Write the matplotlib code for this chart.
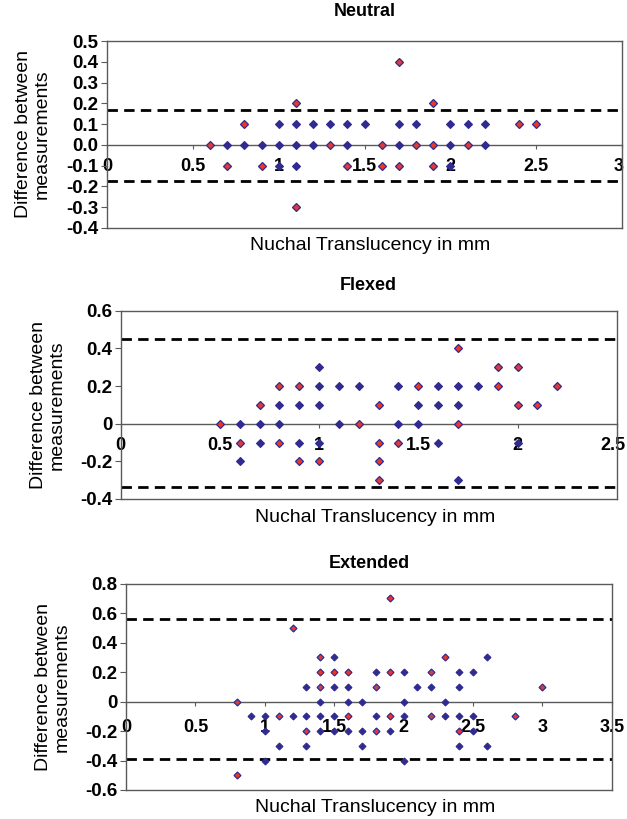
import matplotlib
matplotlib.use("Agg")
import matplotlib.pyplot as plt
from matplotlib.transforms import ScaledTranslation

plt.rcParams['font.family'] = ['Liberation Sans', 'DejaVu Sans']
plt.rcParams['lines.scale_dashes'] = False

# ---------------- data ----------------
titles = ["Neutral", "Flexed", "Extended"]
xlabel = "Nuchal Translucency in mm"
ylabel = "Difference between\nmeasurements"

# Neutral
neu_red_x = [1.1, 0.8, 0.6, 1.3, 0.7, 0.9, 1.4, 1.1, 1.7, 1.9, 2.4, 2.5, 1.6, 1.8, 1.9, 2.1, 1.6, 1.7, 1.9]
neu_red_y = [0.2, 0.1, 0.0, 0.0, -0.1, -0.1, -0.1, -0.3, 0.4, 0.2, 0.1, 0.1, 0.0, 0.0, 0.0, 0.0, -0.1, -0.1, -0.1]
neu_blue_x = [1.0, 1.1, 1.2, 1.3, 1.4, 1.5, 1.7, 1.8, 2.0, 2.1, 2.2,
              0.7, 0.8, 0.9, 1.0, 1.1, 1.2, 1.4, 1.7, 2.0, 2.2,
              1.0, 1.1, 2.0]
neu_blue_y = [0.1] * 11 + [0.0] * 10 + [-0.1] * 3
neu_limits = [0.17, -0.175]
neu_xticks = [0, 0.5, 1, 1.5, 2, 2.5, 3]
neu_xticklabels = ["0", "0.5", "1", "1.5", "2", "2.5", "3"]
neu_yticks = [0.5, 0.4, 0.3, 0.2, 0.1, 0.0, -0.1, -0.2, -0.3, -0.4]
neu_yticklabels = ["0.5", "0.4", "0.3", "0.2", "0.1", "0.0", "-0.1", "-0.2", "-0.3", "-0.4"]

# Flexed
flx_red_x = [0.8, 0.9, 0.7, 0.5, 1.2, 0.6, 0.8, 0.9, 1.0,
             1.7, 1.9, 2.0, 1.5, 1.9, 2.2, 1.3, 2.0, 2.1, 1.7, 1.3, 1.4, 1.3, 1.3]
flx_red_y = [0.2, 0.2, 0.1, 0.0, 0.0, -0.1, -0.1, -0.2, -0.2,
             0.4, 0.3, 0.3, 0.2, 0.2, 0.2, 0.1, 0.1, 0.1, 0.0, -0.1, -0.1, -0.2, -0.3]
flx_blue_x = [1.0, 1.0, 1.1, 1.2, 1.4, 1.6, 1.7, 1.8,
              0.8, 0.9, 1.0, 1.5, 1.6, 1.7,
              0.6, 0.7, 0.8, 1.1, 1.4, 1.5,
              0.7, 0.9, 1.0, 1.6, 2.0,
              0.6, 1.7]
flx_blue_y = [0.3] + [0.2] * 7 + [0.1] * 6 + [0.0] * 6 + [-0.1] * 5 + [-0.2, -0.3]
flx_limits = [0.45, -0.335]
flx_xticks = [0, 0.5, 1, 1.5, 2, 2.5]
flx_xticklabels = ["0", "0.5", "1", "1.5", "2", "2.5"]
flx_yticks = [0.6, 0.4, 0.2, 0.0, -0.2, -0.4]
flx_yticklabels = ["0.6", "0.4", "0.2", "0", "-0.2", "-0.4"]

# Extended
ext_red_x = [1.2, 1.4, 1.4, 1.5, 1.6, 1.4, 0.8, 1.1, 1.6, 1.3, 0.8,
             1.9, 2.3, 1.9, 2.2, 1.8, 3.0, 1.9, 2.2, 2.8, 1.8, 2.4]
ext_red_y = [0.5, 0.3, 0.2, 0.2, 0.2, 0.1, 0.0, -0.1, -0.1, -0.2, -0.5,
             0.7, 0.3, 0.2, 0.2, 0.1, 0.1, -0.1, -0.1, -0.1, -0.2, -0.2]
ext_blue_x = [1.5, 2.6,
              1.8, 2.0, 2.4, 2.5,
              1.3, 1.5, 1.6, 2.1, 2.2, 2.4,
              1.4, 1.6, 1.7, 2.0, 2.3,
              0.9, 1.0, 1.2, 1.3, 1.4, 1.5, 1.8, 2.0, 2.3, 2.4, 2.5,
              1.0, 1.4, 1.5, 1.6, 1.7, 1.9, 2.5,
              1.1, 1.3, 1.7, 2.4, 2.6,
              1.0, 2.0]
ext_blue_y = ([0.3] * 2 + [0.2] * 4 + [0.1] * 6 + [0.0] * 5 + [-0.1] * 11 +
              [-0.2] * 7 + [-0.3] * 5 + [-0.4] * 2)
ext_limits = [0.56, -0.39]
ext_xticks = [0, 0.5, 1, 1.5, 2, 2.5, 3, 3.5]
ext_xticklabels = ["0", "0.5", "1", "1.5", "2", "2.5", "3", "3.5"]
ext_yticks = [0.8, 0.6, 0.4, 0.2, 0.0, -0.2, -0.4, -0.6]
ext_yticklabels = ["0.8", "0.6", "0.4", "0.2", "0", "-0.2", "-0.4", "-0.6"]

panels = [
    dict(title=titles[0], rx=neu_red_x, ry=neu_red_y, bx=neu_blue_x, by=neu_blue_y,
         lim=neu_limits, xt=neu_xticks, xtl=neu_xticklabels, yt=neu_yticks, ytl=neu_yticklabels,
         xlim=(0, 3), ylim=(-0.4, 0.5),
         box=(107, 41, 622, 228), ms=4.4, title_y=12, xlabel_y=245, ylab_x=33, xpad=6.5),
    dict(title=titles[1], rx=flx_red_x, ry=flx_red_y, bx=flx_blue_x, by=flx_blue_y,
         lim=flx_limits, xt=flx_xticks, xtl=flx_xticklabels, yt=flx_yticks, ytl=flx_yticklabels,
         xlim=(0, 2.5), ylim=(-0.4, 0.6),
         box=(120.7, 310.7, 616.7, 499), ms=4.4, title_y=285, xlabel_y=518, ylab_x=48, xpad=6.5),
    dict(title=titles[2], rx=ext_red_x, ry=ext_red_y, bx=ext_blue_x, by=ext_blue_y,
         lim=ext_limits, xt=ext_xticks, xtl=ext_xticklabels, yt=ext_yticks, ytl=ext_yticklabels,
         xlim=(0, 3.5), ylim=(-0.6, 0.8),
         box=(126, 583.7, 611.7, 790), ms=3.5, title_y=563, xlabel_y=808, ylab_x=53, xpad=9.5),
]

W, H = 627, 819
fig = plt.figure(figsize=(W / 100, H / 100), dpi=100)
fig.patch.set_facecolor('white')

BLUE = '#302b8e'
RED = '#e8382c'
FRAME = '#5a5a5a'

for p in panels:
    l, t, r, b = p['box']
    ax = fig.add_axes([l / W, 1 - b / H, (r - l) / W, (b - t) / H])
    ax.set_xlim(*p['xlim'])
    ax.set_ylim(*p['ylim'])
    for s in ax.spines.values():
        s.set_color(FRAME)
        s.set_linewidth(1.0)
    ax.set_yticks(p['yt'])
    ax.set_yticklabels(p['ytl'], fontweight='bold', fontsize=13.5)
    ax.tick_params(axis='y', direction='out', length=4, width=0.8, color=FRAME, pad=2)
    ax.tick_params(axis='x', bottom=False, labelbottom=False)

    # dashed limits of agreement
    for v in p['lim']:
        ax.axhline(v, color='black', lw=2.0, dashes=(7.5, 4.5), zorder=2)

    # secondary x axis at y = 0
    y0, y1 = p['ylim']
    sec = ax.secondary_xaxis((0 - y0) / (y1 - y0))
    sec.set_xticks(p['xt'])
    labs = sec.set_xticklabels(p['xtl'], fontweight='bold', fontsize=13)
    sec.tick_params(direction='out', length=3, width=0.8, color=FRAME, pad=p['xpad'])
    sec.spines['bottom'].set_color(FRAME)
    sec.spines['bottom'].set_linewidth(1.0)
    # keep the last label inside the figure edge
    if r > 612:
        labs[-1].set_transform(labs[-1].get_transform() +
                               ScaledTranslation(-3.5 / 100, 0, fig.dpi_scale_trans))

    ms = p['ms']
    ax.plot(p['bx'], p['by'], linestyle='none', marker='D', ms=ms, mfc=BLUE, mec=BLUE,
            mew=0.8, zorder=4, clip_on=False)
    ax.plot(p['rx'], p['ry'], linestyle='none', marker='D', ms=ms, mfc=RED, mec=BLUE,
            mew=0.9, zorder=5, clip_on=False)

    cx = (l + r) / 2
    fig.text(cx / W, 1 - p['title_y'] / H, p['title'], ha='center', va='center',
             fontsize=13, fontweight='bold')
    fig.text((cx + 6) / W, 1 - p['xlabel_y'] / H, xlabel, ha='center', va='center',
             fontsize=14)
    fig.text(p['ylab_x'] / W, 1 - ((t + b) / 2) / H, ylabel, ha='center', va='center',
             rotation=90, fontsize=14, multialignment='center', linespacing=1.15)

fig.savefig('out.png', dpi=100, facecolor='white')
